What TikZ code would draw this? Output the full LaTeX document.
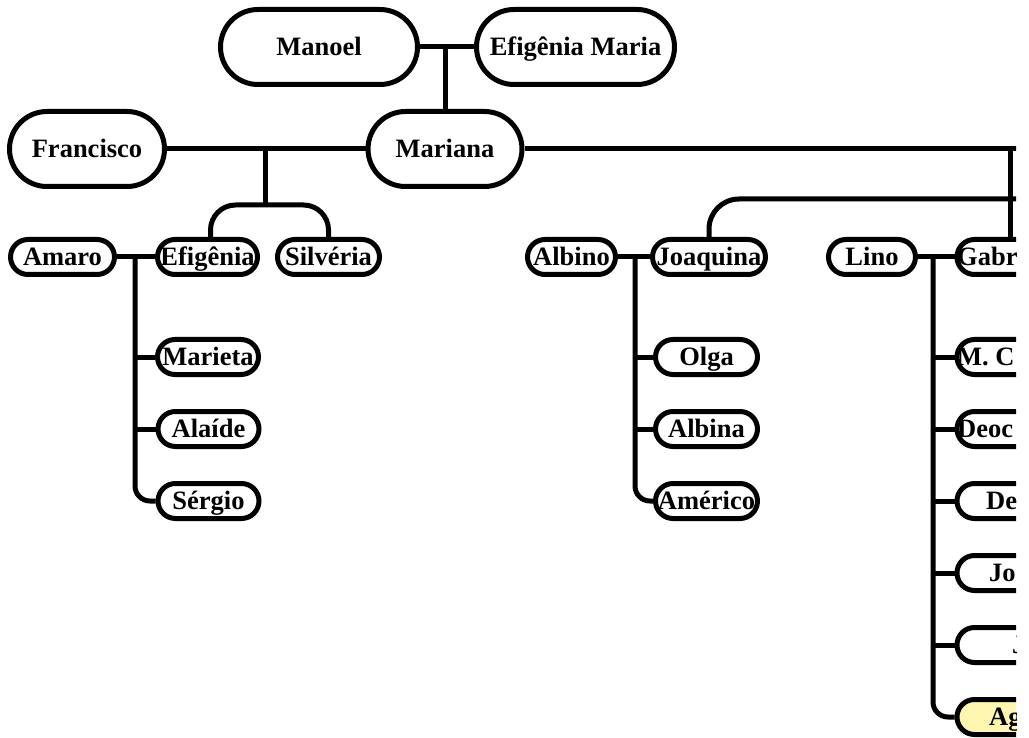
\documentclass[tikz,border=0pt]{standalone}
\usepackage{fontspec}
\setmainfont{Liberation Serif}
\definecolor{agyellow}{HTML}{FFF5B0}
\begin{document}
\begin{tikzpicture}[x=1pt,y=-1pt,
  every node/.style={font=\fontsize{26.5}{30}\selectfont\bfseries},
  ln/.style={line width=5pt},
  big/.style={draw, line width=5pt, rounded corners=37.5pt, minimum height=75pt, inner sep=0pt, text height=17.5pt, text depth=0pt},
  small/.style={draw, line width=5pt, rounded corners=17.5pt, minimum height=35pt, inner sep=0pt, text height=17.5pt, text depth=0pt},
  rbox/.style={small, minimum width=200pt, anchor=west},
  lbl/.style={anchor=base west, inner sep=0pt}]
\useasboundingbox (0,0) rectangle (1029,738);
\begin{scope}
\clip (0,0) rectangle (1016,738);
% top generations
\node[big, minimum width=197pt] (manoel) at (319,47) {Manoel};
\node[big, minimum width=198pt] (efm) at (575.5,47) {Efigênia Maria};
\node[big, minimum width=154pt] (mariana) at (445,149) {Mariana};
\node[big, minimum width=155pt] (francisco) at (87,149) {Francisco};
% left family
\node[small, minimum width=104pt] (amaro) at (62.5,257) {Amaro};
\node[small, minimum width=100pt] (efig) at (207.5,257) {Efigênia};
\node[small, minimum width=102pt] (silveria) at (328.5,257) {Silvéria};
\node[small, minimum width=101pt] (marieta) at (208,357) {Marieta};
\node[small, minimum width=101pt] (alaide) at (208.5,429) {Alaíde};
\node[small, minimum width=101pt] (sergio) at (208.5,501) {Sérgio};
% middle family
\node[small, minimum width=88pt] (albino) at (571.5,257) {Albino};
\node[small, minimum width=113pt] (joaquina) at (709,257) {Joaquina};
\node[small, minimum width=102pt] (olga) at (706.5,357) {Olga};
\node[small, minimum width=102pt] (albina) at (706.5,429) {Albina};
\node[small, minimum width=102pt] (americo) at (706.5,501) {Américo};
% right family
\node[small, minimum width=87pt] (lino) at (872,257) {Lino};
\node[rbox] (gabr) at (954.5,257) {};
\node[rbox] (mc) at (954.5,357) {};
\node[rbox] (deoc) at (954.5,429) {};
\node[rbox] (de) at (954.5,501) {};
\node[rbox] (jo) at (954.5,573) {};
\node[rbox] (jx) at (954.5,645) {};
\node[rbox, fill=agyellow] (ag) at (954.5,717) {};
\node[lbl] (gabrt) at (957,265.5) {Gabr};
\node[lbl] (mct) at (957,365.5) {M. C};
\node[lbl] (deoct) at (957,437.5) {Deoc};
\node[lbl] (det) at (986,509.5) {De};
\node[lbl] (jot) at (989,581.5) {Jo};
\node[lbl] (jxt) at (1012,653.5) {J};
\node[lbl] (agt) at (989,725.5) {Ag};
% connectors
\draw[ln] (manoel.east) -- (efm.west);
\draw[ln] (mariana.north) -- (mariana.north |- manoel.east);
\draw[ln] (francisco.east) -- (mariana.west);
\coordinate (fm) at (265,149);
\coordinate (fmb) at (265,205);
\draw[ln] (fm) -- (fmb);
\draw[ln, rounded corners=25pt] ([xshift=3pt]efig.north) |- (fmb) -| (silveria.north);
\draw[ln] (amaro.east) -- (efig.west);
\coordinate (av) at (135,257);
\draw[ln, rounded corners=15pt] (av) |- (sergio.west);
\draw[ln] (av |- marieta.west) -- (marieta.west);
\draw[ln] (av |- alaide.west) -- (alaide.west);
\draw[ln] (albino.east) -- (joaquina.west);
\coordinate (bv) at (635,257);
\draw[ln, rounded corners=15pt] (bv) |- (americo.west);
\draw[ln] (bv |- olga.west) -- (olga.west);
\draw[ln] (bv |- albina.west) -- (albina.west);
\draw[ln] (lino.east) -- (gabr.west);
\coordinate (lv) at (933,257);
\draw[ln, rounded corners=15pt] (lv) |- (ag.west);
\foreach \n in {mc,deoc,de,jo,jx}{\draw[ln] (lv |- \n.west) -- (\n.west);}
\coordinate (mr) at (1040,149);
\draw[ln] (mariana.east) -- (mr);
\coordinate (gv) at (1010,149);
\draw[ln] (gv) -- (gv |- gabr.north);
\coordinate (jr) at (1040,199);
\draw[ln, rounded corners=30pt] (jr) -| (joaquina.north);
\end{scope}
\end{tikzpicture}
\end{document}
